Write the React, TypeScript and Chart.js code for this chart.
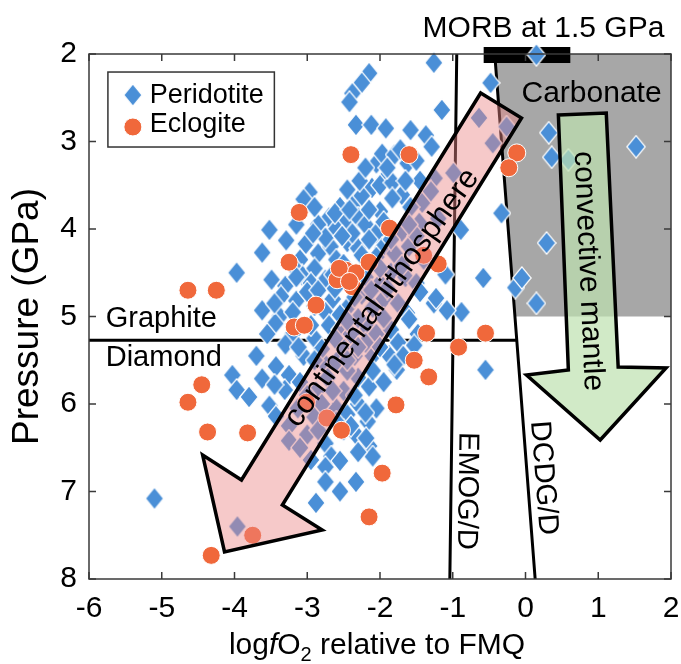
import React, { useEffect, useRef } from "react";
import { Chart, registerables } from "chart.js";
Chart.register(...registerables);

const FONT = '"Liberation Sans", Arial, Helvetica, sans-serif';

// ---- data ----
const xTicks = [-6, -5, -4, -3, -2, -1, 0, 1, 2];
const yTicks = [2, 3, 4, 5, 6, 7, 8];

const peridotite: [number, number][] = [
  [-1.26, 2.1], [0.15, 2.01], [-0.48, 2.33], [-2.15, 2.22], [-2.25, 2.33], [-2.38, 2.45], [-2.42, 2.55],
  [-1.15, 2.64], [-2.33, 2.81], [-2.12, 2.81], [-1.92, 2.85], [-1.58, 2.87], [-1.37, 2.93], [-1.29, 3.06],
  [-0.64, 2.73], [-0.26, 2.83], [-0.45, 3.02], [0.32, 2.9], [0.36, 3.18], [0.59, 3.21], [1.52, 3.06],
  [-2.05, 3.25], [-1.97, 3.14], [-1.8, 3.15], [-1.72, 3.09], [-1.62, 3.25], [-1.5, 3.22],
  [-1.95, 3.44], [-2.11, 3.53], [-2.0, 3.5], [-1.83, 3.47], [-1.7, 3.61], [-1.42, 3.7], [-0.99, 3.36], [-1.25, 3.42], [-1.45, 3.45],
  [-2.97, 3.58], [-3.05, 3.66], [-2.35, 3.7], [-2.55, 3.75], [-2.25, 3.62], [-1.83, 3.65], [-1.3, 3.57],
  [-2.7, 3.87], [-2.47, 3.92], [-2.3, 3.87], [-2.85, 3.95], [-3.52, 4.01], [-2.2, 3.95], [-2.05, 4.05], [-1.7, 4.03],
  [-0.89, 4.01], [-0.33, 3.82], [-1.46, 3.93], [-1.2, 3.88], [-2.6, 4.0], [-2.0, 3.8],
  [-3.29, 4.13], [-3.02, 4.17], [-2.85, 4.28], [-3.62, 4.27], [-2.68, 4.2], [-2.45, 4.15], [-2.3, 4.22], [-2.15, 4.12],
  [-1.97, 4.22], [-1.8, 4.28], [-1.6, 4.2], [-1.4, 4.35], [0.29, 4.16], [-3.1, 4.35], [-2.6, 4.35], [-2.75, 4.1], [-1.85, 4.12], [-1.5, 4.08],
  [-3.97, 4.5], [-3.49, 4.58], [-3.07, 4.53], [-2.9, 4.45], [-2.75, 4.58], [-2.2, 4.55], [-2.0, 4.62], [-1.85, 4.5], [-1.65, 4.55],
  [-0.58, 4.56], [-0.14, 4.67], [-0.05, 4.56], [-1.5, 4.62], [-3.3, 4.65], [-1.1, 4.52], [-3.2, 4.42], [-2.5, 4.4], [-1.7, 4.42], [-2.95, 4.62],
  [-3.36, 4.77], [-3.15, 4.82], [-2.65, 4.8], [-2.45, 4.9], [-1.95, 4.8], [-1.75, 4.85], [-1.63, 4.96], [-1.26, 4.85], [-0.88, 4.95],
  [0.15, 4.85], [-3.62, 4.93], [-3.38, 5.0], [-2.25, 4.75], [-2.75, 4.95], [-3.0, 4.72], [-2.9, 4.88], [-2.1, 4.9], [-1.23, 4.79], [-1.08, 4.93], [-1.45, 4.72],
  [-3.44, 5.08], [-2.7, 5.1], [-2.55, 5.15], [-2.4, 5.2], [-2.2, 5.1], [-2.05, 5.2], [-1.85, 5.15], [-1.6, 5.03], [-1.48, 5.2],
  [-3.2, 5.2], [-2.9, 5.25], [-1.75, 5.3], [-2.3, 5.02], [-1.95, 5.02],
  [-2.52, 5.35], [-2.35, 5.45], [-2.1, 5.45], [-1.88, 5.44], [-1.68, 5.45], [-2.75, 5.55], [-3.05, 5.45], [-1.53, 5.33], [-2.8, 5.37], [-2.2, 5.3], [-2.6, 5.52],
  [-4.03, 5.67], [-3.97, 5.84], [-3.62, 5.71], [-3.43, 5.57], [-3.25, 5.67], [-3.31, 5.84], [-3.1, 5.75], [-1.77, 5.61], [-0.55, 5.61],
  [-2.3, 5.7], [-2.5, 5.85], [-2.15, 5.8], [-1.95, 5.75], [-3.8, 5.92], [-2.72, 5.7], [-2.45, 5.62], [-2.1, 5.62], [-2.88, 5.86],
  [-3.52, 6.02], [-3.43, 6.14], [-3.13, 6.05], [-2.6, 6.05], [-2.45, 6.12], [-2.3, 6.0], [-2.17, 6.2], [-2.9, 6.15], [-2.05, 6.05], [-3.25, 6.25],
  [-3.0, 6.35], [-2.75, 6.45], [-2.33, 6.35], [-2.15, 6.48], [-3.25, 6.42], [-2.5, 6.3], [-2.67, 6.6], [-2.19, 6.39],
  [-2.95, 6.64], [-2.75, 6.72], [-2.1, 6.6], [-2.55, 6.65],
  [-2.75, 6.89], [-2.33, 6.89], [-2.88, 7.13], [-5.1, 7.08], [-2.55, 7.0],
  [-3.96, 7.4],
  [-2.9, 3.75], [-2.62, 3.82], [-2.42, 3.78], [-2.15, 3.78], [-2.38, 4.05], [-2.52, 4.08], [-2.92, 4.05], [-3.15, 3.95], [-1.95, 3.92],
  [-2.25, 4.3], [-2.05, 4.32], [-3.15, 4.55], [-2.85, 4.7], [-2.62, 4.68], [-2.35, 4.78], [-2.12, 4.7], [-3.45, 4.85], [-3.2, 4.95],
  [-2.55, 4.98], [-2.0, 4.45], [-1.9, 4.68], [-2.65, 4.52], [-3.3, 5.32], [-3.12, 5.35], [-2.95, 5.1], [-2.62, 5.25], [-2.45, 5.05],
  [-2.3, 5.35], [-2.0, 5.35], [-1.8, 5.55], [-2.45, 5.5], [-2.9, 5.5], [-3.55, 5.2], [-3.7, 5.45], [-3.45, 5.78], [-3.0, 5.9],
  [-2.8, 6.0], [-2.65, 5.85], [-2.35, 5.9], [-2.2, 6.1], [-2.4, 6.25], [-2.6, 6.2], [-2.85, 6.3], [-3.1, 6.5], [-2.3, 6.55],
  [-2.28, 3.45], [-1.9, 3.3], [-2.2, 3.3], [-1.65, 3.45], [-1.58, 3.75], [-1.6, 3.95], [-2.45, 3.55],
];

const eclogite: [number, number][] = [
  [-2.4, 3.15], [-1.6, 3.15], [-0.12, 3.13], [-0.23, 3.3], [-3.11, 3.81], [-1.87, 3.99],
  [-3.25, 4.38], [-2.47, 4.47], [-2.33, 4.5], [-2.59, 4.58], [-2.38, 4.66], [-2.15, 4.38], [-2.56, 4.45], [-2.42, 4.6],
  [-4.64, 4.7], [-4.25, 4.7], [-2.88, 4.87], [-3.18, 5.12], [-3.04, 5.1],
  [-4.45, 5.78], [-4.64, 5.98], [-4.37, 6.32], [-3.82, 6.33], [-4.32, 7.73], [-3.75, 7.5],
  [-3.01, 5.98], [-2.73, 6.16], [-2.53, 6.3], [-1.97, 6.79], [-2.15, 7.29],
  [-1.2, 4.4], [-1.4, 4.3], [-1.36, 5.19], [-0.92, 5.35], [-0.55, 5.19], [-1.53, 5.5], [-1.33, 5.69], [-1.78, 6.01],
];

// reference lines / regions (data units)
const emogLine: [number, number][] = [[-0.945, 2], [-1.04, 8]];
const dcdgLine: [number, number][] = [[-0.423, 2], [0.133, 8]];
const graphiteDiamondP = 5.27;
const carbonateMaxP = 5;
const morbRange = [-0.575, 0.616];
const morbBand = [1.92, 2.103];

const lithosphereArrow: [number, number][] = [
  [-0.616, 2.446], [-0.055, 2.731], [-3.342, 7.154], [-2.795, 7.44], [-4.137, 7.691], [-4.438, 6.583], [-3.904, 6.869],
];
const mantleArrow: [number, number][] = [
  [0.452, 2.697], [1.11, 2.674], [1.274, 5.577], [1.932, 5.589], [1.027, 6.411], [0.014, 5.669], [0.589, 5.611],
];

const BLUE = "#4A8FD7";
const ORANGE = "#F0683B";

function makeDiamond(): HTMLCanvasElement {
  const c = document.createElement("canvas");
  c.width = 20;
  c.height = 24;
  const g = c.getContext("2d")!;
  g.beginPath();
  g.moveTo(10, 0.8);
  g.lineTo(19.2, 12);
  g.lineTo(10, 23.2);
  g.lineTo(0.8, 12);
  g.closePath();
  g.fillStyle = BLUE;
  g.fill();
  g.strokeStyle = "#fff";
  g.lineWidth = 1.2;
  g.stroke();
  return c;
}

function txt(ctx: CanvasRenderingContext2D, s: string, x: number, y: number, size: number, align: CanvasTextAlign = "center", baseline: CanvasTextBaseline = "middle", rotDeg = 0) {
  ctx.save();
  ctx.translate(x, y);
  if (rotDeg) ctx.rotate((rotDeg * Math.PI) / 180);
  ctx.font = `${size}px ${FONT}`;
  ctx.textAlign = align;
  ctx.textBaseline = baseline;
  ctx.fillStyle = "#000";
  ctx.fillText(s, 0, 0);
  ctx.restore();
}

export default function App() {
  const ref = useRef<HTMLCanvasElement | null>(null);
  useEffect(() => {
    if (!ref.current) return;
    const diamond = makeDiamond();

    const decor = {
      id: "decor",
      beforeDatasetsDraw(chart: any) {
        const ctx: CanvasRenderingContext2D = chart.ctx;
        const X = (v: number) => chart.scales.x.getPixelForValue(v);
        const Y = (v: number) => chart.scales.y.getPixelForValue(v);
        const dcdgAt = (p: number) =>
          dcdgLine[0][0] + ((dcdgLine[1][0] - dcdgLine[0][0]) * (p - dcdgLine[0][1])) / (dcdgLine[1][1] - dcdgLine[0][1]);
        ctx.save();
        ctx.fillStyle = "#a7a7a7";
        ctx.beginPath();
        ctx.moveTo(X(dcdgAt(2)), Y(2));
        ctx.lineTo(X(2), Y(2));
        ctx.lineTo(X(2), Y(carbonateMaxP));
        ctx.lineTo(X(dcdgAt(carbonateMaxP)), Y(carbonateMaxP));
        ctx.closePath();
        ctx.fill();
        ctx.strokeStyle = "#000";
        ctx.lineWidth = 3;
        ctx.beginPath();
        ctx.moveTo(X(emogLine[0][0]), Y(emogLine[0][1]));
        ctx.lineTo(X(emogLine[1][0]), Y(emogLine[1][1]));
        ctx.moveTo(X(dcdgLine[0][0]), Y(dcdgLine[0][1]));
        ctx.lineTo(X(dcdgLine[1][0]), Y(dcdgLine[1][1]));
        ctx.moveTo(X(-6), Y(graphiteDiamondP));
        ctx.lineTo(X(dcdgAt(graphiteDiamondP)), Y(graphiteDiamondP));
        ctx.stroke();
        ctx.fillStyle = "#000";
        ctx.fillRect(X(morbRange[0]), Y(morbBand[0]), X(morbRange[1]) - X(morbRange[0]), Y(morbBand[1]) - Y(morbBand[0]));
        ctx.restore();
      },
      afterDatasetsDraw(chart: any) {
        const ctx: CanvasRenderingContext2D = chart.ctx;
        const X = (v: number) => chart.scales.x.getPixelForValue(v);
        const Y = (v: number) => chart.scales.y.getPixelForValue(v);
        const area = chart.chartArea;
        const poly = (pts: [number, number][], fill: string) => {
          ctx.beginPath();
          pts.forEach(([x, y], i) => (i ? ctx.lineTo(X(x), Y(y)) : ctx.moveTo(X(x), Y(y))));
          ctx.closePath();
          ctx.fillStyle = fill;
          ctx.fill();
          ctx.lineWidth = 3.5;
          ctx.lineJoin = "miter";
          ctx.strokeStyle = "#000";
          ctx.stroke();
        };
        const ang = (a: [number, number], b: [number, number]) =>
          (Math.atan2(Y(b[1]) - Y(a[1]), X(b[0]) - X(a[0])) * 180) / Math.PI;
        ctx.save();
        poly(lithosphereArrow, "rgba(236,135,135,0.45)");
        poly(mantleArrow, "rgba(190,225,175,0.7)");

        const la = lithosphereArrow;
        const litAng = ang(
          [(la[5][0] + la[6][0]) / 2, (la[2][1] + la[6][1]) / 2],
          [(la[0][0] + la[1][0]) / 2, (la[0][1] + la[1][1]) / 2]
        );
        txt(ctx, "continental lithosphere", X(-1.973), Y(4.789), 31, "center", "middle", litAng);
        const ma = mantleArrow;
        const manAng = ang([(ma[0][0] + ma[1][0]) / 2, (ma[0][1] + ma[1][1]) / 2], [(ma[6][0] + ma[2][0]) / 2, (ma[6][1] + ma[2][1]) / 2]);
        txt(ctx, "convective mantle", X(0.86), Y(4.48), 30, "center", "middle", manAng);
        txt(ctx, "EMOG/D", X(-0.808), Y(6.994), 29, "center", "middle", ang(emogLine[0], emogLine[1]));
        txt(ctx, "DCDG/D", X(0.247), Y(6.846), 29, "center", "middle", ang(dcdgLine[0], dcdgLine[1]));
        txt(ctx, "Carbonate", X(-0.055), Y(2.549), 30, "left", "alphabetic");
        txt(ctx, "Graphite", X(-5.77), Y(5.12), 29, "left", "alphabetic");
        txt(ctx, "Diamond", X(-5.77), Y(5.566), 29, "left", "alphabetic");
        txt(ctx, "MORB at 1.5 GPa", X(0.247), Y(1.806), 30, "center", "alphabetic");

        // legend
        const lx0 = X(-5.74), lx1 = X(-3.452), ly0 = Y(2.206), ly1 = Y(3.063);
        ctx.fillStyle = "#fff";
        ctx.fillRect(lx0, ly0, lx1 - lx0, ly1 - ly0);
        ctx.strokeStyle = "#333";
        ctx.lineWidth = 1.5;
        ctx.strokeRect(lx0, ly0, lx1 - lx0, ly1 - ly0);
        ctx.drawImage(diamond, X(-5.397) - 10, Y(2.469) - 12);
        ctx.beginPath();
        ctx.arc(X(-5.397), Y(2.834), 9, 0, Math.PI * 2);
        ctx.fillStyle = ORANGE;
        ctx.fill();
        ctx.strokeStyle = "#fff";
        ctx.lineWidth = 1;
        ctx.stroke();
        txt(ctx, "Peridotite", X(-5.164), Y(2.56), 27, "left", "alphabetic");
        txt(ctx, "Eclogite", X(-5.164), Y(2.891), 27, "left", "alphabetic");

        // frame and inward ticks
        ctx.strokeStyle = "#3a3a3a";
        ctx.lineWidth = 1.5;
        ctx.strokeRect(area.left, area.top, area.right - area.left, area.bottom - area.top);
        ctx.beginPath();
        const tl = 7;
        xTicks.forEach((v) => {
          const x = X(v);
          ctx.moveTo(x, area.bottom);
          ctx.lineTo(x, area.bottom - tl);
          ctx.moveTo(x, area.top);
          ctx.lineTo(x, area.top + tl);
        });
        yTicks.forEach((v) => {
          const y = Y(v);
          ctx.moveTo(area.left, y);
          ctx.lineTo(area.left + tl, y);
          ctx.moveTo(area.right, y);
          ctx.lineTo(area.right - tl, y);
        });
        ctx.stroke();

        // x-axis title with italic f and subscript 2
        const parts: { t: string; f: string; dy: number }[] = [
          { t: "log", f: `30px ${FONT}`, dy: 0 },
          { t: "f", f: `italic 30px ${FONT}`, dy: 0 },
          { t: "O", f: `30px ${FONT}`, dy: 0 },
          { t: "2", f: `20px ${FONT}`, dy: 7 },
          { t: " relative to FMQ", f: `30px ${FONT}`, dy: 0 },
        ];
        let total = 0;
        parts.forEach((p) => {
          ctx.font = p.f;
          total += ctx.measureText(p.t).width;
        });
        let cx = (area.left + area.right) / 2 - 3 - total / 2;
        const by = area.bottom + 75;
        ctx.fillStyle = "#000";
        ctx.textAlign = "left";
        ctx.textBaseline = "alphabetic";
        parts.forEach((p) => {
          ctx.font = p.f;
          ctx.fillText(p.t, cx, by + p.dy);
          cx += ctx.measureText(p.t).width;
        });
        ctx.restore();
      },
    };

    const chart = new Chart(ref.current, {
      type: "scatter",
      data: {
        datasets: [
          {
            label: "Eclogite",
            data: eclogite.map(([x, y]) => ({ x, y })),
            pointStyle: "circle",
            pointRadius: 9,
            backgroundColor: ORANGE,
            borderColor: "#fff",
            borderWidth: 1,
            order: 1,
            clip: false,
          } as any,
          {
            label: "Peridotite",
            data: peridotite.map(([x, y]) => ({ x, y })),
            pointStyle: diamond,
            pointRadius: 10,
            backgroundColor: BLUE,
            borderWidth: 0,
            order: 2,
            clip: false,
          } as any,
        ],
      },
      options: {
        responsive: false,
        animation: false,
        events: [],
        layout: { padding: { left: 0, top: 54, right: 8, bottom: 0 } },
        plugins: { legend: { display: false }, tooltip: { enabled: false } },
        scales: {
          x: {
            type: "linear",
            min: -6,
            max: 2,
            afterFit: (s: any) => {
              s.height = 85;
              s.paddingLeft = 0;
              s.paddingRight = 0;
            },
            afterBuildTicks: (s: any) => {
              s.ticks = xTicks.map((v) => ({ value: v }));
            },
            grid: { display: false, drawTicks: false },
            border: { display: false },
            ticks: { padding: 0, font: { size: 30, family: FONT, lineHeight: 2 }, color: "#000", maxRotation: 0, autoSkip: false },
          },
          y: {
            type: "linear",
            min: 2,
            max: 8,
            reverse: true,
            afterFit: (s: any) => {
              s.width = 89;
            },
            afterBuildTicks: (s: any) => {
              s.ticks = yTicks.map((v) => ({ value: v }));
            },
            grid: { display: false, drawTicks: false },
            border: { display: false },
            ticks: { padding: 12, font: { size: 30, family: FONT }, color: "#000", autoSkip: false },
            title: {
              display: true,
              text: "Pressure (GPa)",
              font: { size: 37, family: FONT },
              color: "#000",
              padding: { top: 6, bottom: 0 },
            },
          },
        },
      } as any,
      plugins: [decor],
    });
    return () => chart.destroy();
  }, []);

  return (
    <div style={{ position: "absolute", left: 0, top: 0, width: 681, height: 664, background: "#fff" }}>
      <canvas ref={ref} width={681} height={664} style={{ display: "block" }} />
    </div>
  );
}
